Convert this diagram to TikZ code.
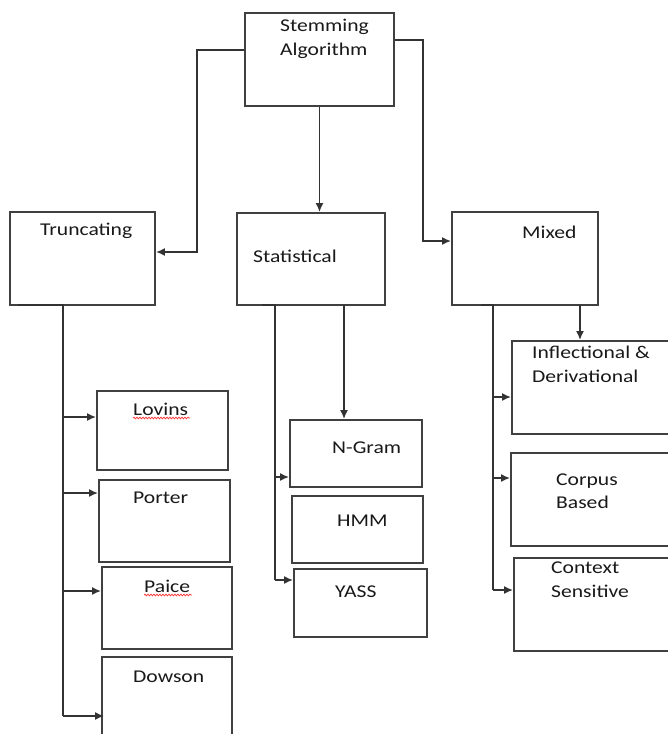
\documentclass[tikz,border=0pt]{standalone}
\usepackage{fontspec}
\setmainfont{Carlito}[FakeStretch=1.2]
\usetikzlibrary{arrows.meta,decorations.pathmorphing}
\begin{document}
\begin{tikzpicture}[x=1pt,y=-1pt,
  box/.style={draw=black!75,line width=1.8pt,fill=white,inner sep=0pt},
  lbl/.style={anchor=base west,inner sep=0pt,text=black!90,font=\fontsize{18}{24}\selectfont},
  conn/.style={draw=black!80,line width=1.9pt},
  arr/.style={conn,-{Latex[length=9pt,width=8pt]}},
  wavy/.style={draw=red!80,line width=0.7pt,decorate,decoration={snake,amplitude=0.9pt,segment length=3pt}}]
\useasboundingbox (0,0) rectangle (668,734);
% boxes
\node[box,minimum width=149pt,minimum height=93pt] (stem) at (319.5,59.5) {};
\node[box,minimum width=145pt,minimum height=93pt] (trunc) at (82.5,258.5) {};
\node[box,minimum width=148pt,minimum height=92pt] (stat) at (311,259) {};
\node[box,minimum width=146pt,minimum height=93pt] (mixed) at (525,258.5) {};
\node[box,minimum width=131pt,minimum height=79pt] (lovins) at (162.5,430.5) {};
\node[box,minimum width=131pt,minimum height=82pt] (porter) at (164.5,521) {};
\node[box,minimum width=130pt,minimum height=82pt] (paice) at (167,608) {};
\node[box,minimum width=130pt,minimum height=88pt] (dowson) at (167,701) {};
\node[box,minimum width=132pt,minimum height=67pt] (ngram) at (356,453.5) {};
\node[box,minimum width=131pt,minimum height=67pt] (hmm) at (357.5,529.5) {};
\node[box,minimum width=133pt,minimum height=68pt] (yass) at (360.5,603) {};
\node[box,minimum width=163pt,minimum height=93pt] (infl) at (593.5,387.5) {};
\node[box,minimum width=164pt,minimum height=93pt] (corpus) at (593,499.5) {};
\node[box,minimum width=161pt,minimum height=93pt] (context) at (594.5,604.5) {};
% texts
\node[lbl] (tstem1) at (280,31) {Stemming};
\node[lbl] (tstem2) at (280,55) {Algorithm};
\node[lbl] (ttrunc) at (40,235) {Truncating};
\node[lbl] (tstat) at (253,262) {Statistical};
\node[lbl] (tmixed) at (522,238) {Mixed};
\node[lbl] (tinfl1) at (532,358) {Inflectional \&};
\node[lbl] (tinfl2) at (532,382) {Derivational};
\node[lbl] (tlovins) at (133,415) {Lovins};
\node[lbl] (tporter) at (133,503) {Porter};
\node[lbl] (tpaice) at (144,592) {Paice};
\node[lbl] (tdowson) at (133,682) {Dowson};
\node[lbl] (tngram) at (332,453) {N-Gram};
\node[lbl] (thmm) at (337,526) {HMM};
\node[lbl] (tyass) at (335,597) {YASS};
\node[lbl] (tcorp1) at (556,485) {Corpus};
\node[lbl] (tcorp2) at (556,508) {Based};
\node[lbl] (tcont1) at (551,573) {Context};
\node[lbl] (tcont2) at (551,597) {Sensitive};
% spell-check underlines
\draw[wavy] (tlovins.base west)++(0,3) -- ++(57,0);
\draw[wavy] (tpaice.base west)++(0,3) -- ++(48,0);
% bend points
\coordinate (b1) at (197,50);
\coordinate (b2) at (197,252);
\coordinate (b3) at (423,40);
\coordinate (b4) at (423,241);
\coordinate (tt) at (63,305);
\coordinate (st) at (275,305);
\coordinate (sn) at (344,305);
\coordinate (mt) at (493,305);
\coordinate (mi) at (580,305);
% top level
\draw[arr] (stem.west |- b1) -- (b1) -- (b2) -- (trunc.east |- b2);
\draw[arr] (stem.east |- b3) -- (b3) -- (b4) -- (mixed.west |- b4);
\draw[arr] (stem.south) -- (stem.south |- stat.north);
% truncating
\draw[conn] (18,305) -- (tt) -- (63,716);
\draw[arr] (63,417) -- (lovins.west |- 0,417);
\draw[arr] (63,493) -- (porter.west |- 0,493);
\draw[arr] (63,591) -- (paice.west |- 0,591);
\draw[arr] (63,716) -- ([xshift=3pt]dowson.west |- 0,716);
% statistical
\draw[conn] (262,305) -- (st) -- (275,580);
\draw[arr] (275,477) -- (ngram.west |- 0,477);
\draw[arr] (275,580) -- (yass.west |- 0,580);
\draw[arr] (sn) -- (sn |- ngram.north);
% mixed
\draw[conn] (481,305) -- (mt) -- (493,590);
\draw[arr] (493,397) -- (infl.west |- 0,397);
\draw[arr] (493,478) -- (corpus.west |- 0,478);
\draw[arr] (493,590) -- (context.west |- 0,590);
\draw[arr] (mi) -- (mi |- infl.north);
\end{tikzpicture}
\end{document}
